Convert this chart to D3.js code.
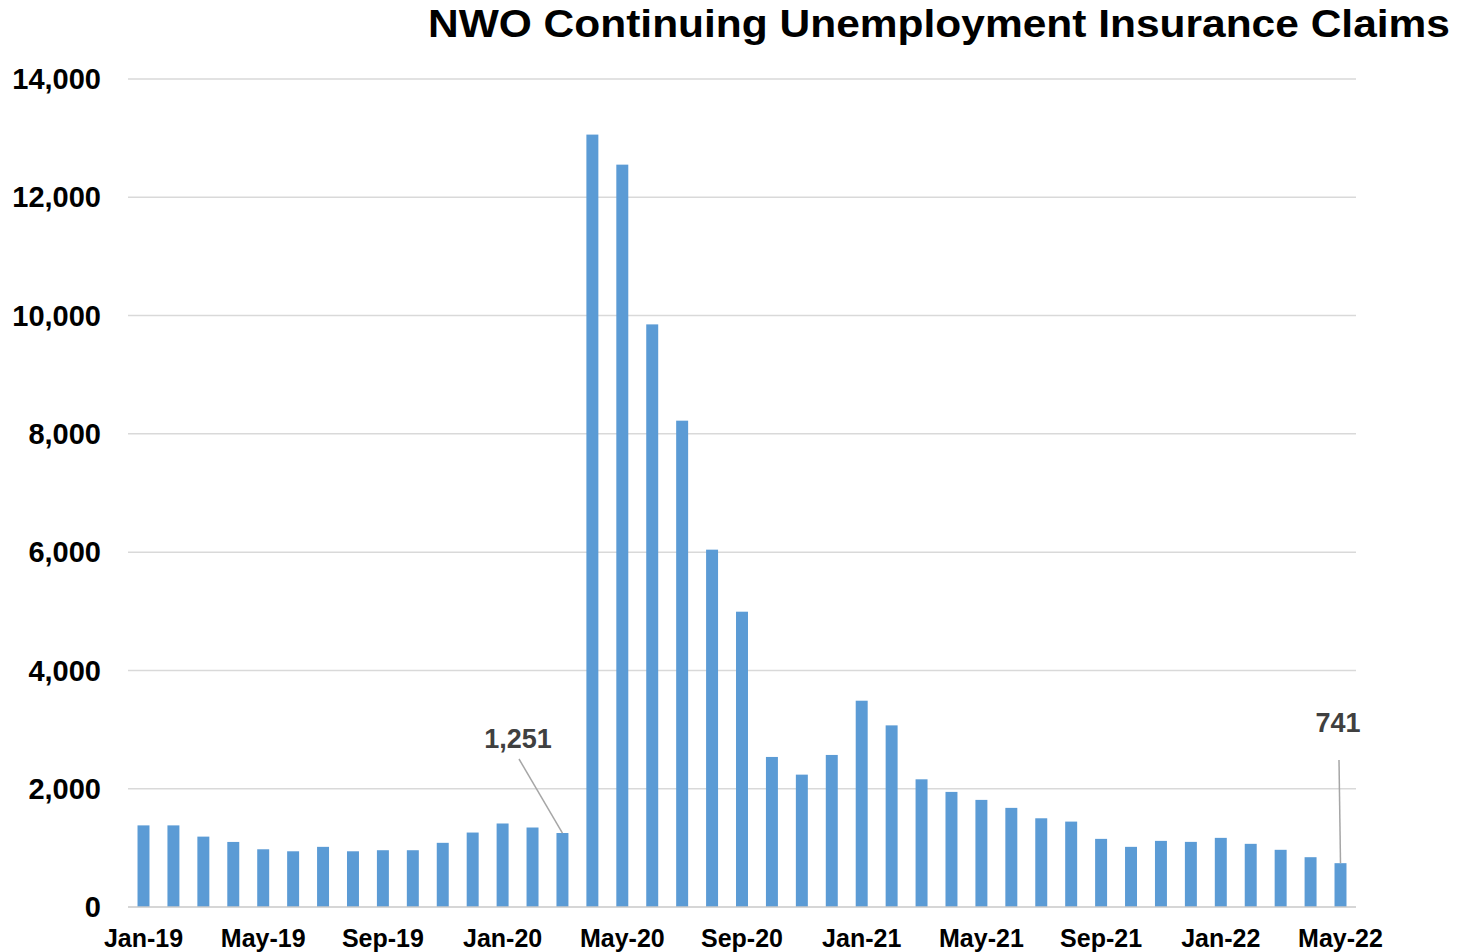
<!DOCTYPE html>
<html>
<head>
<meta charset="utf-8">
<script src="https://cdn.jsdelivr.net/npm/d3@7"></script>
<style>
  html, body { margin: 0; padding: 0; background: #fff; }
  svg { display: block; }
  text { font-family: "Liberation Sans", Arial, sans-serif; font-weight: bold; }
</style>
</head>
<body>
<svg id="chart" width="1462" height="952"></svg>
<script>
const months = [
  "Jan-19","Feb-19","Mar-19","Apr-19","May-19","Jun-19","Jul-19","Aug-19","Sep-19","Oct-19","Nov-19","Dec-19",
  "Jan-20","Feb-20","Mar-20","Apr-20","May-20","Jun-20","Jul-20","Aug-20","Sep-20","Oct-20","Nov-20","Dec-20",
  "Jan-21","Feb-21","Mar-21","Apr-21","May-21","Jun-21","Jul-21","Aug-21","Sep-21","Oct-21","Nov-21","Dec-21",
  "Jan-22","Feb-22","Mar-22","Apr-22","May-22"
];
const claims = [
  1380, 1380, 1190, 1100, 976, 942, 1017, 942, 960, 960, 1085, 1259,
  1412, 1344, 1251, 13060, 12552, 9851, 8223, 6042, 4993, 2537, 2238, 2571,
  3488, 3071, 2159, 1946, 1811, 1676, 1500, 1444, 1152, 1017, 1118, 1101,
  1169, 1068, 967, 842, 741
];
const yTicks = [0, 2000, 4000, 6000, 8000, 10000, 12000, 14000];
const xTickLabels = ["Jan-19","May-19","Sep-19","Jan-20","May-20","Sep-20","Jan-21","May-21","Sep-21","Jan-22","May-22"];
const annotated = [
  { month: "Mar-20", label: "1,251", lx: 518, ly: 739, x1: 519, y1: 759 },
  { month: "May-22", label: "741", lx: 1338, ly: 723, x1: 1339, y1: 760 }
];
const title = "NWO Continuing Unemployment Insurance Claims";

const svg = d3.select("#chart");
const mLeft = 128, mRight = 1356, mTop = 79, mBottom = 907;

const x = d3.scaleBand().domain(months).range([mLeft, mRight]).paddingInner(0.6).paddingOuter(0.318);
const y = d3.scaleLinear().domain([0, 14000]).range([mBottom, mTop]);

// gridlines
svg.append("g").selectAll("line").data(yTicks.filter(d => d > 0)).join("line")
  .attr("x1", mLeft).attr("x2", mRight)
  .attr("y1", d => y(d)).attr("y2", d => y(d))
  .attr("stroke", "#d9d9d9").attr("stroke-width", 1.5);

// bars
svg.append("g").selectAll("rect").data(months.map((m, i) => ({ m, v: claims[i] }))).join("rect")
  .attr("x", d => x(d.m)).attr("width", x.bandwidth())
  .attr("y", d => y(d.v)).attr("height", d => y(0) - y(d.v))
  .attr("fill", "#5b9bd5");

// baseline
svg.append("line").attr("x1", mLeft).attr("x2", mRight)
  .attr("y1", y(0)).attr("y2", y(0))
  .attr("stroke", "#c8c8c8").attr("stroke-width", 1.5);

// y axis
const yAxis = d3.axisLeft(y).tickValues(yTicks).tickFormat(d3.format(",")).tickSize(0).tickPadding(0);
const gy = svg.append("g").attr("transform", "translate(101,0)").call(yAxis);
gy.select(".domain").remove();
gy.selectAll("text").attr("font-size", 29).attr("fill", "#000").attr("font-weight", "bold")
  .attr("font-family", "'Liberation Sans', Arial, sans-serif").attr("dy", "0.33em");

// x axis
const xAxis = d3.axisBottom(x).tickValues(xTickLabels).tickSize(0).tickPadding(0);
const gx = svg.append("g").attr("transform", `translate(0,${mBottom})`).call(xAxis);
gx.select(".domain").remove();
gx.selectAll("text").attr("font-size", 25).attr("fill", "#000").attr("font-weight", "bold")
  .attr("font-family", "'Liberation Sans', Arial, sans-serif").attr("dy", null).attr("y", 40);

// annotations
annotated.forEach(a => {
  const i = months.indexOf(a.month);
  const bx = x(a.month) + x.bandwidth() / 2;
  svg.append("line").attr("x1", a.x1).attr("y1", a.y1)
    .attr("x2", bx).attr("y2", y(claims[i]))
    .attr("stroke", "#a6a6a6").attr("stroke-width", 1.5);
  svg.append("text").attr("x", a.lx).attr("y", a.ly).attr("dy", "0.35em")
    .attr("text-anchor", "middle").attr("font-size", 27).attr("fill", "#404040")
    .text(a.label);
});

// title
svg.append("text").attr("x", 1450).attr("y", 37).attr("text-anchor", "end")
  .attr("font-size", 38).attr("fill", "#000")
  .attr("textLength", 1022).attr("lengthAdjust", "spacingAndGlyphs")
  .text(title);
</script>
</body>
</html>
